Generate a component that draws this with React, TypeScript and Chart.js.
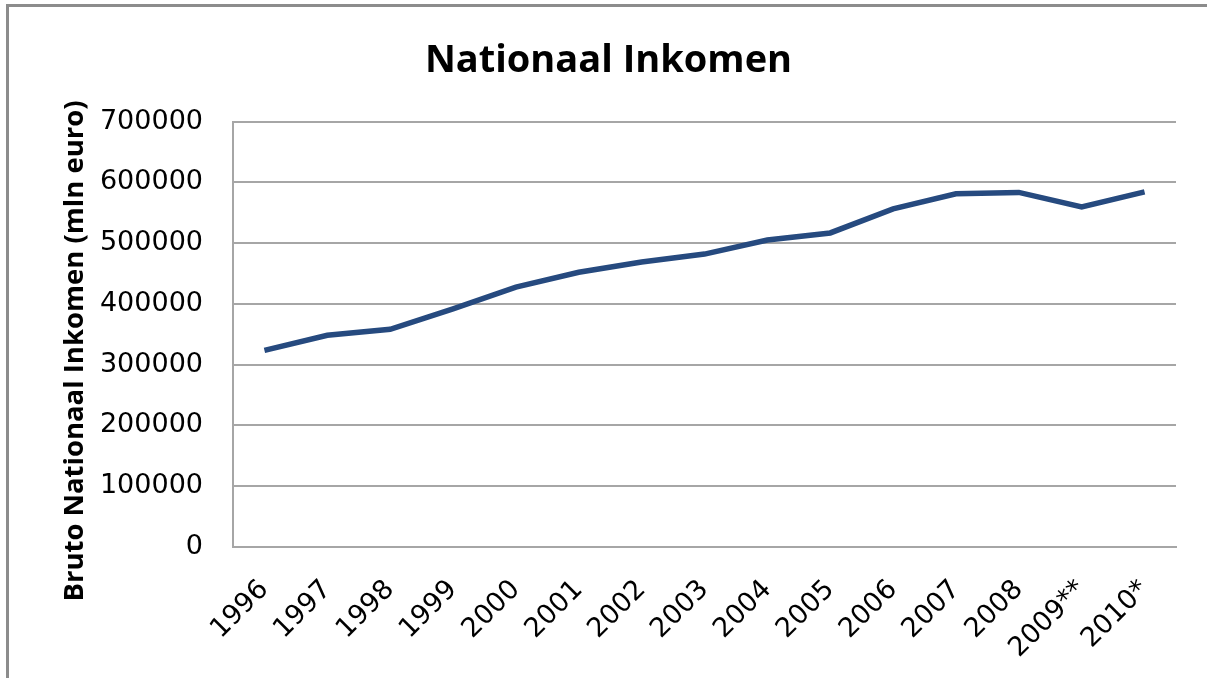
import React, { useEffect, useRef } from "react";
import { Chart, registerables } from "chart.js";

Chart.register(...registerables);

const categories = ["1996", "1997", "1998", "1999", "2000", "2001", "2002", "2003", "2004", "2005", "2006", "2007", "2008", "2009**", "2010*"];
const incomeValues = [323600, 348400, 358300, 392000, 427600, 452000, 469000, 482000, 505200, 516800, 556400, 581100, 583500, 559700, 584400];
const yTicks = [0, 100000, 200000, 300000, 400000, 500000, 600000, 700000];

const chartTitle = "Nationaal Inkomen";
const yAxisTitle = "Bruto Nationaal Inkomen (mln euro)";

const FONT = "'Open Sans', 'DejaVu Sans', sans-serif";
const TICK_FONT = "'DejaVu Sans', sans-serif";

const yTitlePlugin = {
  id: "yTitlePlugin",
  afterDraw(chart: any) {
    const ctx = chart.ctx;
    ctx.save();
    ctx.translate(75, 351);
    ctx.rotate(-Math.PI / 2);
    ctx.font = `bold 27.5px ${FONT}`;
    ctx.fillStyle = "#000";
    ctx.textAlign = "center";
    ctx.textBaseline = "middle";
    ctx.fillText(yAxisTitle, 0, 0);
    ctx.restore();
  },
};

export default function App() {
  const ref = useRef<HTMLCanvasElement | null>(null);

  useEffect(() => {
    if (!ref.current) return;
    const chart = new Chart(ref.current, {
      type: "line",
      data: {
        labels: categories,
        datasets: [
          {
            label: "Bruto Nationaal Inkomen",
            data: incomeValues,
            borderColor: "#264a7f",
            borderWidth: 5.5,
            pointRadius: 0,
            tension: 0,
            fill: false,
          },
        ],
      },
      options: {
        responsive: false,
        animation: false,
        layout: { padding: { left: 41, right: 31, top: 0, bottom: 0 } },
        plugins: {
          legend: { display: false },
          tooltip: { enabled: false },
          title: {
            display: true,
            text: chartTitle,
            color: "#000",
            font: { family: FONT, size: 38, weight: "bold" },
            padding: { top: 38, bottom: 38 },
          },
        },
        scales: {
          x: {
            offset: true,
            grid: { display: false, drawTicks: false },
            border: { display: true, color: "#a6a6a6", width: 2 },
            ticks: {
              color: "#000",
              font: { family: TICK_FONT, size: 27 },
              maxRotation: 45,
              minRotation: 45,
              padding: 27,
              autoSkip: false,
            },
            afterFit: (scale: any) => {
              scale.height = 131;
            },
          },
          y: {
            min: 0,
            max: 700000,
            afterBuildTicks: (scale: any) => {
              scale.ticks = yTicks.map((v) => ({ value: v }));
            },
            grid: { color: "#a6a6a6", lineWidth: 2, drawTicks: false },
            border: { display: true, color: "#a6a6a6", width: 2 },
            ticks: {
              color: "#000",
              font: { family: TICK_FONT, size: 27 },
              padding: 30,
              callback: (v: any) => String(v),
            },
            title: { display: false },
            afterFit: (scale: any) => {
              scale.width = 192;
            },
          },
        },
      },
      plugins: [yTitlePlugin],
    });
    return () => chart.destroy();
  }, []);

  return (
    <div style={{ position: "absolute", left: 0, top: 0, width: 1207, height: 678, background: "#fff", overflow: "hidden" }}>
      <div style={{ position: "absolute", left: 6, top: 4, width: 1201, height: 3, background: "#8c8c8c" }} />
      <div style={{ position: "absolute", left: 6, top: 4, width: 3, height: 674, background: "#8c8c8c" }} />
      <canvas ref={ref} width={1207} height={678} style={{ position: "absolute", left: 0, top: 0 }} />
    </div>
  );
}
